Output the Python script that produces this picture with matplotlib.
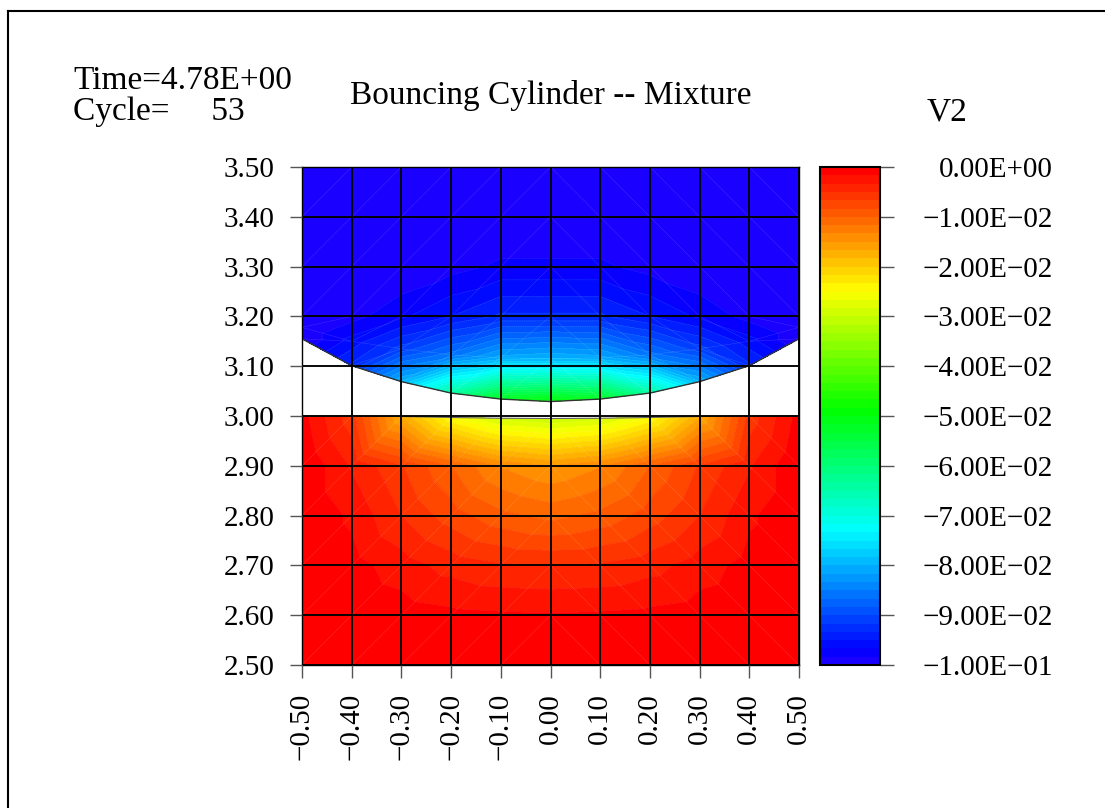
import numpy as np
import matplotlib
matplotlib.use("Agg")
import matplotlib.pyplot as plt
from matplotlib.colors import ListedColormap, BoundaryNorm, hsv_to_rgb
from matplotlib.tri import Triangulation
from matplotlib.lines import Line2D
from matplotlib.ticker import NullLocator

plt.rcParams['font.family'] = ['Liberation Serif', 'DejaVu Serif']

# ---- mesh columns (shared by both blocks) ----
x_nodes = [-0.5, -0.4, -0.3, -0.2, -0.1, 0.0, 0.1, 0.2, 0.3, 0.4, 0.5]

# ---- lower block: node heights, rows bottom -> top ----
lower_y = [
    [2.5] * 11,
    [2.6] * 11,
    [2.7] * 11,
    [2.8] * 11,
    [2.9] * 11,
    [3.0, 3.0, 2.999, 2.997, 2.9955, 2.995, 2.9955, 2.997, 2.999, 3.0, 3.0],
]
# V2 at the lower block nodes
lower_v2 = [
    [0.0] * 11,
    [0.0, -0.0003, -0.0008, -0.0012, -0.0014, -0.0015, -0.0014, -0.0012, -0.0008, -0.0003, 0.0],
    [0.0, -0.0010, -0.0025, -0.0040, -0.0048, -0.0050, -0.0048, -0.0040, -0.0025, -0.0010, 0.0],
    [0.0, -0.0020, -0.0050, -0.0075, -0.0095, -0.0105, -0.0095, -0.0075, -0.0050, -0.0020, 0.0],
    [0.0, -0.0035, -0.0065, -0.0100, -0.0135, -0.0150, -0.0135, -0.0100, -0.0065, -0.0035, 0.0],
    [-0.001, -0.0060, -0.0170, -0.0250, -0.0290, -0.0300, -0.0290, -0.0250, -0.0170, -0.0060, -0.001],
]

# ---- upper block (cylinder side): node heights, rows bottom -> top ----
upper_y = [
    [3.155, 3.101, 3.069, 3.046, 3.034, 3.029, 3.034, 3.046, 3.069, 3.101, 3.155],
    [3.178, 3.150, 3.135, 3.123, 3.117, 3.115, 3.117, 3.123, 3.135, 3.150, 3.178],
    [3.2] * 11,
    [3.3] * 11,
    [3.4] * 11,
    [3.5] * 11,
]
upper_v2 = [
    [-0.100, -0.093, -0.080, -0.064, -0.052, -0.049, -0.052, -0.064, -0.080, -0.093, -0.100],
    [-0.100, -0.096, -0.091, -0.086, -0.081, -0.080, -0.081, -0.086, -0.091, -0.096, -0.100],
    [-0.100, -0.099, -0.097, -0.095, -0.093, -0.093, -0.093, -0.095, -0.097, -0.099, -0.100],
    [-0.100, -0.100, -0.100, -0.099, -0.098, -0.098, -0.098, -0.099, -0.100, -0.100, -0.100],
    [-0.100] * 11,
    [-0.100] * 11,
]

# ---- axes ticks / labels ----
x_ticks = [-0.5, -0.4, -0.3, -0.2, -0.1, 0.0, 0.1, 0.2, 0.3, 0.4, 0.5]
x_labels = ["\u22120.50", "\u22120.40", "\u22120.30", "\u22120.20", "\u22120.10",
            "0.00", "0.10", "0.20", "0.30", "0.40", "0.50"]
y_ticks = [2.5, 2.6, 2.7, 2.8, 2.9, 3.0, 3.1, 3.2, 3.3, 3.4, 3.5]
y_labels = ["2.50", "2.60", "2.70", "2.80", "2.90", "3.00",
            "3.10", "3.20", "3.30", "3.40", "3.50"]
cb_ticks = [-0.10, -0.09, -0.08, -0.07, -0.06, -0.05, -0.04, -0.03, -0.02, -0.01, 0.00]
cb_labels = ["\u22121.00E\u221201", "\u22129.00E\u221202", "\u22128.00E\u221202",
             "\u22127.00E\u221202", "\u22126.00E\u221202", "\u22125.00E\u221202",
             "\u22124.00E\u221202", "\u22123.00E\u221202", "\u22122.00E\u221202",
             "\u22121.00E\u221202", "0.00E+00"]

v_min, v_max, n_bands = -0.1, 0.0, 60


def block_nodes(ys, vs):
    xs = np.tile(np.asarray(x_nodes), (len(ys), 1))
    return xs.ravel(), np.asarray(ys).ravel(), np.asarray(vs).ravel()


def block_triangles(n_rows, n_cols, offset):
    tris = []
    for j in range(n_rows - 1):
        for i in range(n_cols - 1):
            a = offset + j * n_cols + i
            b, c = a + 1, a + n_cols
            d = c + 1
            if x_nodes[i] < 0:
                tris += [[a, b, d], [a, d, c]]
            else:
                tris += [[a, b, c], [b, d, c]]
    return tris


xl, yl, vl = block_nodes(lower_y, lower_v2)
xu, yu, vu = block_nodes(upper_y, upper_v2)
nc = len(x_nodes)
triangles = block_triangles(len(lower_y), nc, 0) + block_triangles(len(upper_y), nc, len(xl))
tri = Triangulation(np.concatenate([xl, xu]), np.concatenate([yl, yu]), triangles)
z = np.concatenate([vl, vu])

# rainbow bands: blue (low) -> red (high)
levels = np.linspace(v_min, v_max, n_bands + 1)
hues = np.linspace(246, 0, n_bands) / 360.0
band_colors = hsv_to_rgb(np.column_stack([hues, np.ones(n_bands), np.ones(n_bands)]))
cmap = ListedColormap(band_colors)
norm = BoundaryNorm(levels, n_bands)

W, H = 1105, 808
fig = plt.figure(figsize=(W / 100, H / 100), dpi=100)

ax = fig.add_axes([302 / W, 1 - 665 / H, 497 / W, 498 / H])
cs = ax.tricontourf(tri, z, levels=levels, cmap=cmap, norm=norm)
ax.triplot(tri, color='white', lw=0.35, alpha=0.18)
ax.tricontour(tri, z, levels=levels[1:-1], colors='white', linewidths=0.3, alpha=0.22)
ax.plot(x_nodes, upper_y[0], color='#333333', lw=1.0)
ax.plot(x_nodes, lower_y[-1], color='#666666', lw=0.8)

ax.set_xlim(-0.5, 0.5)
ax.set_ylim(2.5, 3.5)
ax.set_xticks(x_ticks)
ax.set_xticklabels(x_labels, rotation=90)
ax.set_yticks(y_ticks)
ax.set_yticklabels(y_labels)
ax.set_axisbelow(False)
ax.grid(True, color='black', lw=1.35)
ax.tick_params(direction='out', length=9, width=1, color='#555555', pad=11, labelsize=21)
for s in ax.spines.values():
    s.set_linewidth(1.0)

cax = fig.add_axes([820 / W, 1 - 665 / H, 60 / W, 498 / H])
cb = fig.colorbar(cs, cax=cax, ticks=cb_ticks)
cb.set_ticklabels(cb_labels)
cax.yaxis.set_minor_locator(NullLocator())
cax.tick_params(which='minor', length=0)
cax.tick_params(direction='out', length=10, width=1, color='#555555', pad=114.6, labelsize=21)
for lab in cax.get_yticklabels():
    lab.set_horizontalalignment('right')
cb.outline.set_linewidth(1.5)

fig.text(73 / W, 1 - 89 / H, "Time=4.78E+00", fontsize=24, va='baseline')
fig.text(73 / W, 1 - 120 / H, "Cycle=     53", fontsize=24, va='baseline')
fig.text(551 / W, 1 - 104.3 / H, "Bouncing Cylinder -- Mixture", fontsize=24,
         ha='center', va='baseline')
fig.text(947 / W, 1 - 120.7 / H, "V2", fontsize=24, ha='center', va='baseline')

# page frame
fig.add_artist(Line2D([8.2 / W, 8.2 / W], [0, 1 - 11 / H], color='black', lw=1.5))
fig.add_artist(Line2D([8.2 / W, 1.0], [1 - 11 / H, 1 - 11 / H], color='black', lw=1.5))

fig.savefig("out.png", dpi=100)
